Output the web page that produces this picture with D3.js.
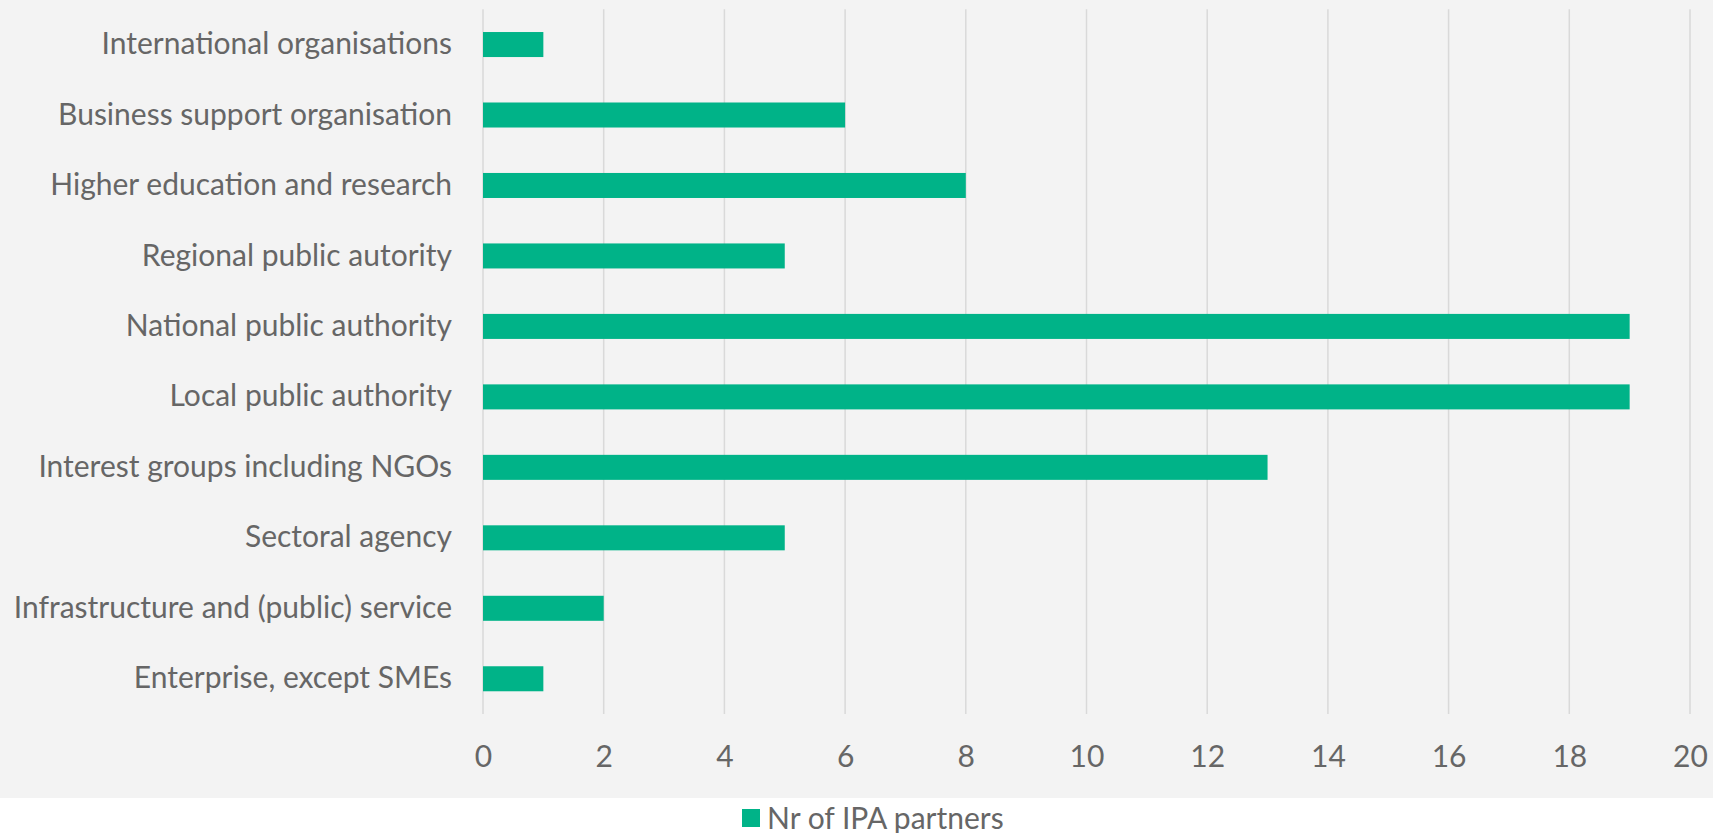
<!DOCTYPE html>
<html>
<head>
<meta charset="utf-8">
<script src="https://cdn.jsdelivr.net/npm/d3@7"></script>
<style>
	body { margin: 0; background: #fff; }
	svg { display: block; }
</style>
</head>
<body>
<svg id="chart"></svg>
<script>

	var categories = [
		"International organisations",
		"Business support organisation",
		"Higher education and research",
		"Regional public autority",
		"National public authority",
		"Local public authority",
		"Interest groups including NGOs",
		"Sectoral agency",
		"Infrastructure and (public) service",
		"Enterprise, except SMEs"
	];

	var partners = [1, 6, 8, 5, 19, 19, 13, 5, 2, 1];

	var xTicks = [0, 2, 4, 6, 8, 10, 12, 14, 16, 18, 20];

	var seriesName = "Nr of IPA partners";

	var width = 1713,
		height = 833,
		margin = { top: 9.3, right: 23, bottom: 119, left: 483 };

	var barColor = "#00b388",
		textColor = "#666666",
		fontFamily = "Lato, 'Open Sans', sans-serif";

	var svg = d3.select("#chart")
		.attr("width", width)
		.attr("height", height);

	// grey panel behind the plot, legend sits on white
	svg.append("rect")
		.attr("x", 0)
		.attr("y", 0)
		.attr("width", width)
		.attr("height", 798)
		.style("fill", "#f3f3f3");

	var x = d3.scaleLinear()
		.domain([0, 20])
		.range([margin.left, width - margin.right]);

	var y = d3.scaleBand()
		.domain(categories)
		.range([margin.top, height - margin.bottom])
		.paddingInner(0.645)
		.paddingOuter(0.3225);

	// gridlines
	svg.append("g")
		.attr("class", "grid")
		.selectAll("line")
		.data(xTicks)
		.enter().append("line")
		.attr("x1", function(d) { return x(d); })
		.attr("x2", function(d) { return x(d); })
		.attr("y1", margin.top)
		.attr("y2", height - margin.bottom)
		.style("stroke", "#d9d9d9")
		.style("stroke-width", 1.5);

	// bars
	svg.selectAll("rect.bar")
		.data(categories)
		.enter().append("rect")
		.attr("class", "bar")
		.attr("x", x(0))
		.attr("y", function(d) { return y(d); })
		.attr("width", function(d, i) { return x(partners[i]) - x(0); })
		.attr("height", y.bandwidth())
		.style("fill", barColor);

	// category labels
	var yAxis = d3.axisLeft(y).tickSize(0).tickPadding(0);

	svg.append("g")
		.attr("class", "y axis")
		.attr("transform", "translate(" + (margin.left - 31) + ",0)")
		.call(yAxis)
		.call(function(g) { g.select(".domain").remove(); });

	// value axis
	var xAxis = d3.axisBottom(x).tickValues(xTicks).tickSize(0).tickPadding(0);

	svg.append("g")
		.attr("class", "x axis")
		.attr("transform", "translate(0," + 756 + ")")
		.call(xAxis)
		.call(function(g) { g.select(".domain").remove(); })
		.selectAll("text")
		.attr("dy", "0.35em");

	svg.selectAll(".axis text")
		.style("font-family", fontFamily)
		.style("font-size", "30px")
		.style("fill", textColor);

	// legend
	var legend = svg.append("g")
		.attr("transform", "translate(742,809)");

	legend.append("rect")
		.attr("width", 18)
		.attr("height", 18)
		.style("fill", barColor);

	legend.append("text")
		.attr("x", 25)
		.attr("y", 9)
		.attr("dy", "0.35em")
		.style("font-family", fontFamily)
		.style("font-size", "30px")
		.style("fill", textColor)
		.text(seriesName);

</script>
</body>
</html>
